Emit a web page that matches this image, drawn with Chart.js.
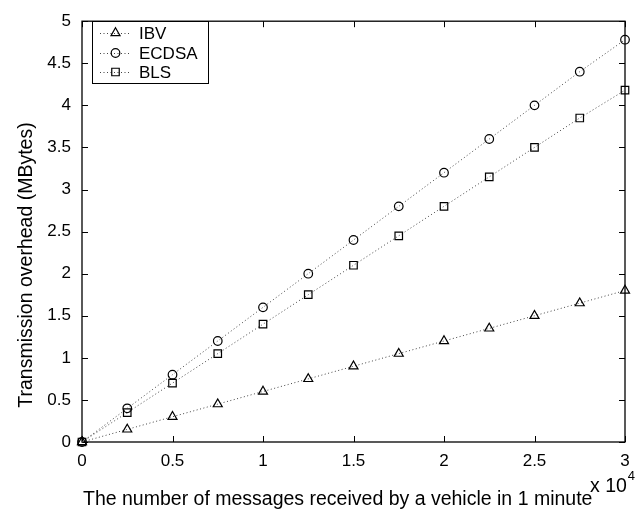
<!DOCTYPE html>
<html>
<head>
<meta charset="utf-8">
<script src="https://cdn.jsdelivr.net/npm/chart.js"></script>
<style>
  html, body { margin: 0; padding: 0; background: #fff; }
  #wrap { width: 644px; height: 511px; }
</style>
</head>
<body>
<div id="wrap"><canvas id="myChart" width="644" height="511"></canvas></div>
<script>
// messages received per minute and overhead in MBytes
const messageCounts = [0, 2500, 5000, 7500, 10000, 12500, 15000, 17500, 20000, 22500, 25000, 27500, 30000];
const ibvOverhead = [0, 0.15, 0.30, 0.45, 0.60, 0.75, 0.90, 1.05, 1.20, 1.35, 1.50, 1.65, 1.80];
const ecdsaOverhead = [0, 0.40, 0.80, 1.20, 1.60, 2.00, 2.40, 2.80, 3.20, 3.60, 4.00, 4.40, 4.78];
const blsOverhead = [0, 0.35, 0.70, 1.05, 1.40, 1.75, 2.10, 2.45, 2.80, 3.15, 3.50, 3.85, 4.18];
const seriesNames = ['IBV', 'ECDSA', 'BLS'];
const xTickValues = [0, 5000, 10000, 15000, 20000, 25000, 30000];
const yTickValues = [0, 0.5, 1, 1.5, 2, 2.5, 3, 3.5, 4, 4.5, 5];

const FONT = 'Liberation Sans, Arial, Helvetica, sans-serif';
const markers = [
    { style: 'triangle', radius: 5.2 },
    { style: 'circle', radius: 4.3 },
    { style: 'rect', radius: 5.3 }
];

function toPoints(values) {
    return messageCounts.map((x, i) => ({ x: x, y: values[i] }));
}

const datasets = [ibvOverhead, ecdsaOverhead, blsOverhead].map((values, i) => ({
    label: seriesNames[i],
    data: toPoints(values),
    borderColor: '#444',
    borderWidth: 1,
    borderDash: [1, 2.5],
    pointStyle: markers[i].style,
    pointRadius: markers[i].radius,
    pointBorderColor: '#000',
    pointBackgroundColor: 'rgba(0,0,0,0)',
    pointBorderWidth: 1.2,
    fill: false,
    tension: 0,
    clip: false
}));

// box, inward ticks, axis titles and the legend
const decorations = {
    id: 'decorations',
    beforeDatasetsDraw(chart) {
        const { ctx, chartArea: a, scales } = chart;
        ctx.save();
        ctx.strokeStyle = '#000';
        ctx.lineWidth = 1.3;
        ctx.strokeRect(a.left, a.top, a.right - a.left, a.bottom - a.top);
        ctx.lineWidth = 1;
        const len = 6;
        ctx.beginPath();
        xTickValues.forEach(v => {
            const px = Math.round(scales.x.getPixelForValue(v)) + 0.5;
            ctx.moveTo(px, a.bottom); ctx.lineTo(px, a.bottom - len);
            ctx.moveTo(px, a.top); ctx.lineTo(px, a.top + len);
        });
        yTickValues.forEach(v => {
            const py = Math.round(scales.y.getPixelForValue(v)) + 0.5;
            ctx.moveTo(a.left, py); ctx.lineTo(a.left + len, py);
            ctx.moveTo(a.right, py); ctx.lineTo(a.right - len, py);
        });
        ctx.stroke();
        ctx.restore();
    },
    afterDraw(chart) {
        const { ctx } = chart;
        ctx.save();
        ctx.fillStyle = '#000';

        // axis titles
        ctx.font = '19.5px ' + FONT;
        ctx.textAlign = 'left';
        ctx.textBaseline = 'alphabetic';
        ctx.fillText('The number of messages received by a vehicle in 1 minute', 83, 505);

        ctx.save();
        ctx.translate(32, 265);
        ctx.rotate(-Math.PI / 2);
        ctx.textAlign = 'center';
        ctx.fillText('Transmission overhead (MBytes)', 0, 0);
        ctx.restore();

        // exponent of the x axis
        ctx.font = '19.5px ' + FONT;
        ctx.fillText('x 10', 590, 492);
        const w = ctx.measureText('x 10').width;
        ctx.font = '13px ' + FONT;
        ctx.fillText('4', 590 + w + 1, 480);

        // legend
        const box = { x: 92.5, y: 21.5, w: 116, h: 62 };
        ctx.fillStyle = '#fff';
        ctx.fillRect(box.x, box.y, box.w, box.h);
        ctx.strokeStyle = '#000';
        ctx.lineWidth = 1;
        ctx.strokeRect(box.x, box.y, box.w, box.h);
        const rows = [33, 53, 72];
        chart.data.datasets.forEach((ds, i) => {
            const y = rows[i];
            ctx.save();
            ctx.strokeStyle = '#444';
            ctx.setLineDash([1, 2.5]);
            ctx.beginPath();
            ctx.moveTo(100, y + 0.5);
            ctx.lineTo(131, y + 0.5);
            ctx.stroke();
            ctx.restore();
            ctx.strokeStyle = '#000';
            ctx.fillStyle = 'rgba(0,0,0,0)';
            ctx.lineWidth = 1.2;
            Chart.helpers.drawPoint(ctx, {
                pointStyle: ds.pointStyle,
                radius: ds.pointRadius,
                borderWidth: 1.2,
                rotation: 0
            }, 115.5, y);
            ctx.fillStyle = '#000';
            ctx.font = '17px ' + FONT;
            ctx.textAlign = 'left';
            ctx.textBaseline = 'middle';
            ctx.fillText(ds.label, 139, y + 1);
        });
        ctx.restore();
    }
};

const ctx = document.getElementById('myChart').getContext('2d');
const myChart = new Chart(ctx, {
    type: 'line',
    data: { datasets: datasets },
    options: {
        responsive: false,
        animation: false,
        events: [],
        layout: { padding: { top: 13, right: 19, left: 0, bottom: 0 } },
        scales: {
            x: {
                type: 'linear',
                min: 0,
                max: 30000,
                afterBuildTicks: scale => { scale.ticks = xTickValues.map(v => ({ value: v })); },
                afterFit: scale => { scale.height = 69; },
                ticks: {
                    callback: v => String(v / 10000),
                    font: { family: FONT, size: 17 },
                    color: '#000',
                    padding: 9,
                    maxRotation: 0,
                    autoSkip: false
                },
                grid: { display: false, drawTicks: false },
                border: { display: false }
            },
            y: {
                min: 0,
                max: 5,
                afterBuildTicks: scale => { scale.ticks = yTickValues.map(v => ({ value: v })); },
                afterFit: scale => { scale.width = 82; },
                ticks: {
                    callback: v => String(v),
                    font: { family: FONT, size: 17 },
                    color: '#000',
                    padding: 11
                },
                grid: { display: false, drawTicks: false },
                border: { display: false }
            }
        },
        plugins: {
            legend: { display: false },
            tooltip: { enabled: false }
        }
    },
    plugins: [decorations]
});
</script>
</body>
</html>
